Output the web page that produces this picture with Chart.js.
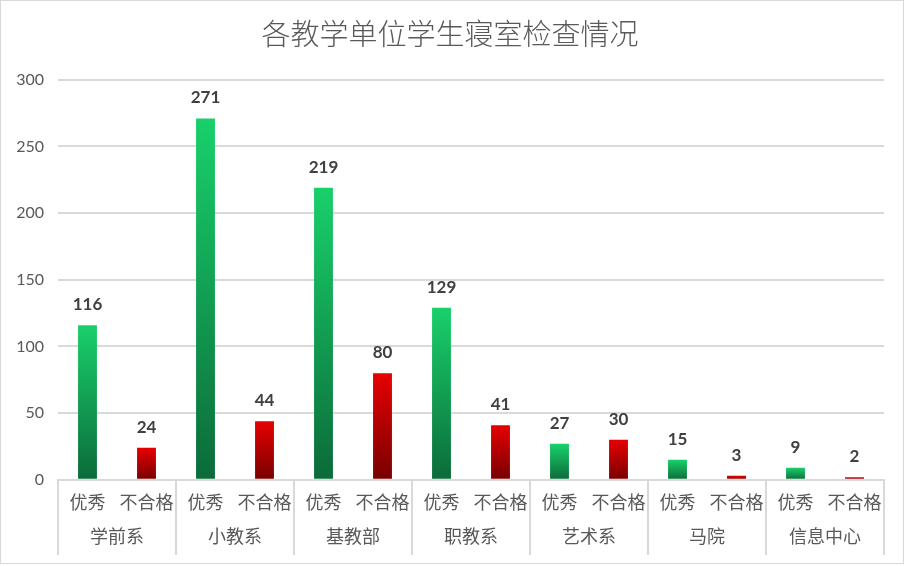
<!DOCTYPE html>
<html>
<head>
<meta charset="utf-8">
<script src="https://cdn.jsdelivr.net/npm/chart.js@4.4.0/dist/chart.umd.min.js"></script>
<style>
  body { margin: 0; background: #fff; }
  #wrap { position: absolute; left: 0; top: 0; width: 902px; height: 562px; border: 1px solid #d9d9d9; }
</style>
</head>
<body>
<div id="wrap"><canvas id="c"></canvas></div>
<script>
// 各教学单位学生寝室检查情况
const groups = ['学前系', '小教系', '基教部', '职教系', '艺术系', '马院', '信息中心'];
const seriesNames = ['优秀', '不合格'];
const excellent = [116, 271, 219, 129, 27, 15, 9];
const failed = [24, 44, 80, 41, 30, 3, 2];
const yTicks = [0, 50, 100, 150, 200, 250, 300];

// flatten into 14 categories: 优秀 / 不合格 per unit
const labels = [];
const values = [];
groups.forEach((g, i) => {
  labels.push(seriesNames[0], seriesNames[1]);
  values.push(excellent[i], failed[i]);
});

const cjk = "'Noto Sans CJK SC', sans-serif";
const gridColor = '#d9d9d9';

function barFill(ctx) {
  const chart = ctx.chart;
  const good = ctx.dataIndex % 2 === 0;
  const top = good ? '#19d06b' : '#e60000';
  const bottom = good ? '#0b6b39' : '#780000';
  if (!chart.chartArea) return top;
  const y = chart.scales.y;
  const y0 = y.getPixelForValue(0);
  const y1 = y.getPixelForValue(values[ctx.dataIndex]);
  if (y0 - y1 < 1) return top;
  const g = chart.ctx.createLinearGradient(0, y1, 0, y0);
  g.addColorStop(0, top);
  g.addColorStop(1, bottom);
  return g;
}

// numbers above the bars
const valueLabels = {
  id: 'valueLabels',
  afterDatasetsDraw(chart) {
    const c = chart.ctx;
    const meta = chart.getDatasetMeta(0);
    c.save();
    c.font = 'bold 17px Lato';
    c.fillStyle = '#404040';
    c.textAlign = 'center';
    c.textBaseline = 'alphabetic';
    meta.data.forEach((bar, i) => c.fillText(values[i], bar.x, bar.y - 15));
    c.restore();
  }
};

// separators between the units, through both label rows
const groupLines = {
  id: 'groupLines',
  afterDraw(chart) {
    const x2 = chart.scales.x2;
    const top = chart.scales.x.top;
    const c = chart.ctx;
    c.save();
    c.strokeStyle = gridColor;
    c.lineWidth = 2;
    for (let i = 0; i <= groups.length; i++) {
      const px = Math.round(x2.getPixelForValue(i - 0.5));
      c.beginPath();
      c.moveTo(px, top);
      c.lineTo(px, x2.bottom + 8);
      c.stroke();
    }
    c.restore();
  }
};

new Chart(document.getElementById('c'), {
  type: 'bar',
  data: {
    labels: labels,
    datasets: [{
      data: values,
      backgroundColor: barFill,
      barPercentage: 0.32,
      categoryPercentage: 1
    }]
  },
  options: {
    responsive: true,
    maintainAspectRatio: false,
    animation: false,
    layout: { padding: { left: 15, right: 19, top: 0, bottom: 16 } },
    plugins: {
      legend: { display: false },
      tooltip: { enabled: false },
      title: {
        display: true,
        text: '各教学单位学生寝室检查情况',
        color: '#595959',
        font: { family: cjk, size: 29, weight: '300' },
        padding: { top: 16, bottom: 28 }
      }
    },
    scales: {
      x: {
        grid: { display: false, drawTicks: false },
        border: { color: gridColor, width: 2 },
        ticks: {
          padding: 12,
          autoSkip: false,
          maxRotation: 0,
          color: '#595959',
          font: { family: cjk, size: 18, lineHeight: 1.2 }
        }
      },
      x2: {
        type: 'category',
        position: 'bottom',
        weight: 1,
        labels: groups,
        offset: true,
        grid: { display: false, drawTicks: false },
        border: { display: false },
        ticks: {
          padding: 0,
          autoSkip: false,
          maxRotation: 0,
          color: '#595959',
          font: { family: cjk, size: 18, lineHeight: 1.2 }
        }
      },
      y: {
        min: yTicks[0],
        max: yTicks[yTicks.length - 1],
        afterBuildTicks: s => { s.ticks = yTicks.map(v => ({ value: v })); },
        afterFit: s => { s.width = 42; },
        grid: { color: gridColor, lineWidth: 2, drawTicks: false },
        border: { display: false },
        ticks: { padding: 14, color: '#595959', font: { family: 'Lato', size: 16 } }
      }
    }
  },
  plugins: [valueLabels, groupLines]
});
</script>
</body>
</html>
